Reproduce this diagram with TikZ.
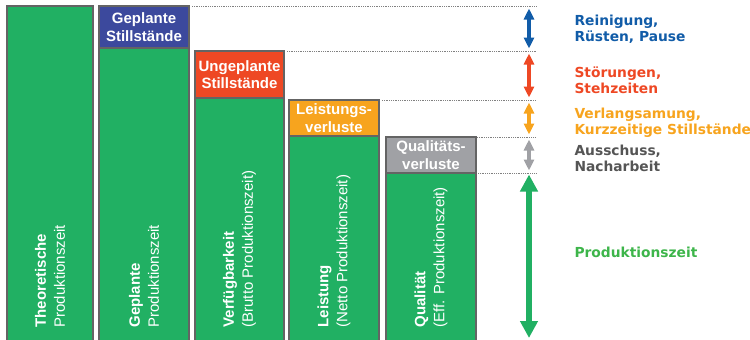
\documentclass[tikz,border=0pt]{standalone}
\usepackage{fontspec}
\setmainfont{Liberation Sans}
\newfontfamily\verdanafont{DejaVu Sans}
\usetikzlibrary{arrows.meta,positioning}

\definecolor{oeegreen}{RGB}{33,176,99}
\definecolor{plannedblue}{RGB}{60,73,157}
\definecolor{unplannedred}{RGB}{238,72,36}
\definecolor{speedorange}{RGB}{247,164,30}
\definecolor{qualgray}{RGB}{160,161,165}
\definecolor{framegray}{RGB}{100,100,100}
\definecolor{sideblue}{RGB}{17,92,168}
\definecolor{sidegray}{RGB}{85,85,85}
\definecolor{sidegreen}{RGB}{61,181,74}

\begin{document}
\begin{tikzpicture}[x=1pt,y=-1pt,
  bar/.style={draw=framegray,line width=1.4pt,fill=oeegreen,anchor=north west,
    inner sep=0pt,outer sep=0pt},
  hdr/.style={bar,text=white,align=center,font=\fontsize{15}{17.5}\selectfont\bfseries},
  vlab/.style={rotate=90,anchor=west,text=white,align=left,
    font=\fontsize{15}{19}\selectfont},
  guide/.style={densely dotted,gray,line width=0.8pt},
  span/.style={line width=3.5pt,shorten <=2.5pt,shorten >=2.5pt,
    {Triangle[width=10pt,length=11pt]}-{Triangle[width=10pt,length=11pt]}},
  side/.style={anchor=west,align=left,
    font=\verdanafont\fontsize{13.8}{16}\selectfont\bfseries},
]
\useasboundingbox (0,0) rectangle (750,340);
%% bars
\node[bar,minimum width=86,minimum height=342] (b1) at (7,6) {};
\node[hdr,fill=plannedblue,minimum width=90,minimum height=42] (h2) at (99,6) {Geplante\\Stillstände};
\node[bar,minimum width=90,minimum height=300] (b2) at (h2.south west) {};
\node[hdr,fill=unplannedred,minimum width=89,minimum height=47] (h3) at (195,51) {Ungeplante\\Stillstände};
\node[bar,minimum width=89,minimum height=250] (b3) at (h3.south west) {};
\node[hdr,fill=speedorange,minimum width=90,minimum height=36] (h4) at (289,100) {Leistungs-\\verluste};
\node[bar,minimum width=90,minimum height=212] (b4) at (h4.south west) {};
\node[hdr,fill=qualgray,minimum width=90,minimum height=36] (h5) at (386,137) {Qualitäts-\\verluste};
\node[bar,minimum width=90,minimum height=175] (b5) at (h5.south west) {};
%% bar texts
\node[vlab] (t1) at (b1.center |- 0,331) {\textbf{Theoretische}\\Produktionszeit};
\node[vlab] (t2) at (b2.center |- 0,331) {\textbf{Geplante}\\Produktionszeit};
\node[vlab] (t3) at (b3.center |- 0,331) {\textbf{Verfügbarkeit}\\(Brutto Produktionszeit)};
\node[vlab] (t4) at (b4.center |- 0,331) {\textbf{Leistung}\\(Netto Produktionszeit)};
\node[vlab] (t5) at (b5.center |- 0,331) {\textbf{Qualität}\\(Eff. Produktionszeit)};
%% guides and arrows
\coordinate (ax) at (529,0);
\coordinate (rim) at (536,0);
\coordinate (floor) at (529,338);
\draw[guide] ([xshift=3]h2.north east) -- (h2.north east -| rim);
\draw[guide] ([xshift=3]h3.north east) -- (h3.north east -| rim);
\draw[guide] ([xshift=3]h4.north east) -- (h4.north east -| rim);
\draw[guide] ([xshift=1]h5.north east) -- (h5.north east -| rim);
\draw[guide] ([xshift=2]h5.south east) -- (h5.south east -| rim);
\draw[span,sideblue] (h2.north east -| ax) -- (h3.north east -| ax);
\draw[span,unplannedred] (h3.north east -| ax) -- (h4.north east -| ax);
\draw[span,speedorange] (h4.north east -| ax) -- (h5.north east -| ax);
\draw[span,qualgray] (h5.north east -| ax) -- (h5.south east -| ax);
\draw[oeegreen,line width=6pt,shorten <=1.5pt,
  {Triangle[width=17pt,length=17pt]}-{Triangle[width=17pt,length=17pt]}]
  (h5.south east -| ax) -- (floor);
%% side labels
\node[side,text=sideblue] (l1) at (571,29) {Reinigung,\\Rüsten, Pause};
\node[side,text=unplannedred] (l2) at (571,80) {Störungen,\\Stehzeiten};
\node[side,text=speedorange] (l3) at (571,122.5) {Verlangsamung,\\Kurzzeitige Stillstände};
\node[side,text=sidegray] (l4) at (571,158.5) {Ausschuss,\\Nacharbeit};
\node[side,text=sidegreen] (l5) at (571,252.5) {Produktionszeit};
\end{tikzpicture}
\end{document}
